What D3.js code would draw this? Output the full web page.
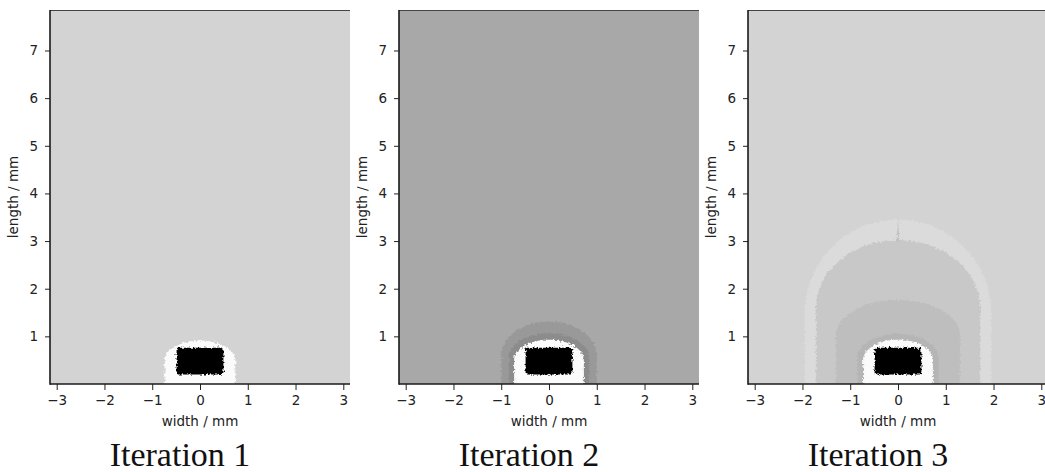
<!DOCTYPE html>
<html>
<head>
<meta charset="utf-8">
<script src="https://cdn.jsdelivr.net/npm/d3@7"></script>
<style>
  html, body { margin: 0; padding: 0; background: #fff; }
  svg { display: block; }
  .tick text { font-family: "DejaVu Sans", sans-serif; font-size: 13.5px; fill: #222; }
  .tick line { stroke: #222; stroke-width: 1; }
</style>
</head>
<body>
<svg id="fig" width="1045" height="472"></svg>
<script>
// Axis extents and ticks (mm)
const xExtent = [-3.14, 3.14];
const yExtent = [0, 7.85];
const xTicks = [-3, -2, -1, 0, 1, 2, 3];
const yTicks = [1, 2, 3, 4, 5, 6, 7];
const titles = ["Iteration 1", "Iteration 2", "Iteration 3"];

// Far-field grey level per iteration (0 = black, 1 = white)
const backgroundLevel = [0.827, 0.66, 0.827];

// Nested dome-shaped zones around the heater, outermost first:
// half width, shoulder height, crown height (mm) and grey level
const zoneHalfWidth = [[0.74], [1.0, 0.84, 0.73], [1.95, 1.72, 1.3, 0.85, 0.73]];
const zoneShoulder  = [[0.5],  [0.6, 0.55, 0.5],  [1.5, 1.6, 1.0, 0.55, 0.5]];
const zoneCrown     = [[0.91], [1.31, 1.06, 0.93], [3.45, 3.02, 1.77, 1.05, 0.93]];
const zoneLevel     = [[0.985], [0.6, 0.55, 0.985], [0.858, 0.785, 0.745, 0.71, 0.985]];

// Heater core (black block), mm
const coreX = [-0.49, 0.49];
const coreY = [0.2, 0.76];

// Thin vertical streak above the crown in iteration 3
const streakX = [0, 0];
const streakY = [2.98, 3.5];
const streakLevel = 0.76;

const panelLeft = [50, 399, 748];
const panelW = 300, plotTop = 10, plotBottom = 384;

const svg = d3.select("#fig");
const grey = d3.scaleLinear().domain([0, 1]).range(["#000000", "#ffffff"]);
const tickFmt = d3.format("d");

const defs = svg.append("defs");
const f = defs.append("filter").attr("id", "rough")
  .attr("x", "-5%").attr("y", "-5%").attr("width", "110%").attr("height", "110%");
f.append("feTurbulence").attr("type", "fractalNoise").attr("baseFrequency", 0.45)
  .attr("numOctaves", 2).attr("seed", 7).attr("result", "noise");
f.append("feDisplacementMap").attr("in", "SourceGraphic").attr("in2", "noise")
  .attr("scale", 5).attr("xChannelSelector", "R").attr("yChannelSelector", "G");

function domePoints(w, h, t) {
  const pts = [[-w, -0.3], [-w, h]];
  const n = 48;
  for (let i = 0; i <= n; i++) {
    const a = Math.PI - Math.PI * i / n;
    pts.push([w * Math.cos(a), h + (t - h) * Math.sin(a)]);
  }
  pts.push([w, -0.3]);
  return pts;
}

titles.forEach((title, p) => {
  const x0 = panelLeft[p];
  const x = d3.scaleLinear().domain(xExtent).range([x0, x0 + panelW]);
  const y = d3.scaleLinear().domain(yExtent).range([plotBottom, plotTop]);
  const line = d3.line().x(d => x(d[0])).y(d => y(d[1]));

  defs.append("clipPath").attr("id", "clip" + p)
    .append("rect")
    .attr("x", x(xExtent[0])).attr("y", y(yExtent[1]))
    .attr("width", x(xExtent[1]) - x(xExtent[0]))
    .attr("height", y(yExtent[0]) - y(yExtent[1]));

  const plot = svg.append("g").attr("clip-path", `url(#clip${p})`);
  plot.append("rect")
    .attr("x", x(xExtent[0]) - 5).attr("y", y(yExtent[1]) - 5)
    .attr("width", x(xExtent[1]) - x(xExtent[0]) + 10)
    .attr("height", y(yExtent[0]) - y(yExtent[1]) + 10)
    .attr("fill", grey(backgroundLevel[p]));

  const field = plot.append("g").attr("filter", "url(#rough)");
  zoneHalfWidth[p].forEach((w, i) => {
    field.append("path")
      .attr("d", line(domePoints(w, zoneShoulder[p][i], zoneCrown[p][i])) + "Z")
      .attr("fill", grey(zoneLevel[p][i]));
  });
  if (p === 2) {
    field.append("path")
      .attr("d", line([[streakX[0] - 0.03, streakY[0]], [streakX[1], streakY[1]], [streakX[0] + 0.03, streakY[0]]]) + "Z")
      .attr("fill", grey(streakLevel));
  }
  field.append("rect")
    .attr("x", x(coreX[0])).attr("y", y(coreY[1]))
    .attr("width", x(coreX[1]) - x(coreX[0]))
    .attr("height", y(coreY[0]) - y(coreY[1]))
    .attr("rx", 2)
    .attr("fill", "#000");

  // Axes
  const xa = svg.append("g").attr("transform", `translate(0,${plotBottom})`)
    .call(d3.axisBottom(x).tickValues(xTicks).tickFormat(tickFmt).tickSize(6).tickPadding(5));
  xa.select(".domain").remove();
  const ya = svg.append("g").attr("transform", `translate(${x0},0)`)
    .call(d3.axisLeft(y).tickValues(yTicks).tickFormat(tickFmt).tickSize(5).tickPadding(7));
  ya.select(".domain").remove();

  // Spines
  svg.append("line").attr("x1", x0).attr("x2", x0 + panelW)
    .attr("y1", plotTop + 0.5).attr("y2", plotTop + 0.5)
    .attr("stroke", "#444").attr("stroke-width", 1);
  svg.append("line").attr("x1", x0).attr("x2", x0)
    .attr("y1", plotTop).attr("y2", plotBottom + 0.75)
    .attr("stroke", "#1a1a1a").attr("stroke-width", 1.6);
  svg.append("line").attr("x1", x0).attr("x2", x0 + panelW)
    .attr("y1", plotBottom).attr("y2", plotBottom)
    .attr("stroke", "#1a1a1a").attr("stroke-width", 1.6);

  // Labels
  svg.append("text")
    .attr("x", x(0)).attr("y", 426)
    .attr("text-anchor", "middle")
    .style("font-family", "'DejaVu Sans', sans-serif").style("font-size", "13.5px").style("fill", "#222")
    .text("width / mm");
  svg.append("text")
    .attr("transform", `translate(${x0 - 32},${(plotTop + plotBottom) / 2}) rotate(-90)`)
    .attr("text-anchor", "middle")
    .style("font-family", "'DejaVu Sans', sans-serif").style("font-size", "13.5px").style("fill", "#222")
    .text("length / mm");
  svg.append("text")
    .attr("x", x0 + 130).attr("y", 466)
    .attr("text-anchor", "middle")
    .style("font-family", "'Liberation Serif', serif").style("font-size", "34px").style("fill", "#111")
    .text(title);
});
</script>
</body>
</html>
